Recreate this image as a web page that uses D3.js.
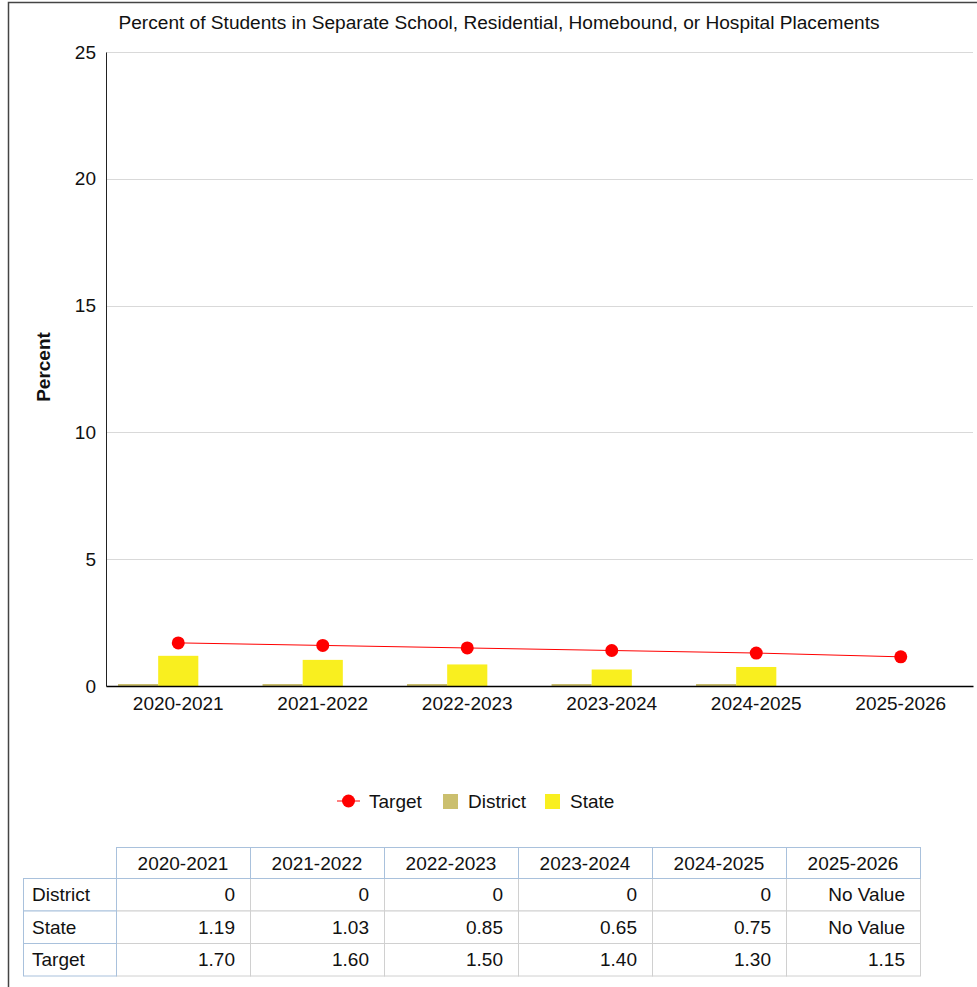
<!DOCTYPE html>
<html>
<head>
<meta charset="utf-8">
<script src="https://cdn.jsdelivr.net/npm/d3@7"></script>
<style>
  body { margin: 0; background: #fff; }
  svg { font-family: "Liberation Sans", Arial, sans-serif; }
</style>
</head>
<body>
<script>
// chart data
var years = ["2020-2021", "2021-2022", "2022-2023", "2023-2024", "2024-2025", "2025-2026"];
var districtValues = [0, 0, 0, 0, 0, null];
var stateValues = [1.19, 1.03, 0.85, 0.65, 0.75, null];
var targetValues = [1.70, 1.60, 1.50, 1.40, 1.30, 1.15];
var yTicks = [0, 5, 10, 15, 20, 25];

var W = 977, H = 987;
var margin = { top: 52, right: 4, bottom: 301, left: 106 };
var fs = "19px";

var svg = d3.select("body").append("svg")
    .attr("width", W)
    .attr("height", H);

// outer frame (left and top only are visible)
svg.append("path")
    .attr("d", "M8.5," + H + "V2.5H" + W)
    .attr("fill", "none")
    .attr("stroke", "#444")
    .attr("stroke-width", 1.5);

svg.append("text")
    .attr("x", 499)
    .attr("y", 29)
    .attr("text-anchor", "middle")
    .style("font-size", "19.1px")
    .attr("fill", "#111")
    .text("Percent of Students in Separate School, Residential, Homebound, or Hospital Placements");

var x = d3.scaleBand()
    .domain(years)
    .range([margin.left, W - margin.right]);

var y = d3.scaleLinear()
    .domain([0, 25])
    .range([H - margin.bottom, margin.top]);

// three slots per category: district, state, (target)
var slot = d3.scaleBand()
    .domain(["district", "state", "target"])
    .range([0, x.bandwidth()])
    .paddingOuter(0.3);

// grid
svg.append("g")
    .selectAll("line")
    .data(yTicks.filter(d => d > 0))
    .enter().append("line")
    .attr("x1", margin.left)
    .attr("x2", W - margin.right)
    .attr("y1", d => Math.round(y(d)) + 0.5)
    .attr("y2", d => Math.round(y(d)) + 0.5)
    .attr("stroke", "#d9d9d9")
    .attr("stroke-width", 1);

// y axis
var yAxis = svg.append("g")
    .attr("transform", "translate(" + margin.left + ",0)")
    .call(d3.axisLeft(y).tickValues(yTicks).tickSize(0).tickPadding(10));
yAxis.select(".domain").attr("stroke", "#222");
yAxis.selectAll("text")
    .style("font-size", fs)
    .attr("fill", "#111")
    .attr("font-family", null);

svg.append("text")
    .attr("transform", "translate(50,367) rotate(-90)")
    .attr("text-anchor", "middle")
    .style("font-size", "19px")
    .style("font-weight", "bold")
    .attr("fill", "#111")
    .text("Percent");

// bars
function drawBars(values, key, color) {
    svg.append("g")
        .selectAll("rect")
        .data(years.map((d, i) => ({ year: d, v: values[i] })).filter(d => d.v != null))
        .enter().append("rect")
        .attr("x", d => x(d.year) + slot(key))
        .attr("width", slot.bandwidth())
        .attr("y", d => Math.min(y(d.v), y(0) - 2))
        .attr("height", d => Math.max(y(0) - y(d.v), 2))
        .attr("fill", color);
}
drawBars(districtValues, "district", "#cbbf6e");
drawBars(stateValues, "state", "#f9ef1f");

// x axis
var xAxis = svg.append("g")
    .attr("transform", "translate(0," + y(0) + ")")
    .call(d3.axisBottom(x).tickSize(0).tickPadding(11));
xAxis.select(".domain").attr("stroke", "#000").attr("stroke-width", 1.3);
xAxis.selectAll("text")
    .style("font-size", fs)
    .attr("fill", "#111")
    .attr("font-family", null);

// target line
var line = d3.line()
    .x((d, i) => x(years[i]) + x.bandwidth() / 2)
    .y(d => y(d));

svg.append("path")
    .datum(targetValues)
    .attr("d", line)
    .attr("fill", "none")
    .attr("stroke", "#ff0000")
    .attr("stroke-width", 1);

svg.append("g")
    .selectAll("circle")
    .data(targetValues)
    .enter().append("circle")
    .attr("cx", (d, i) => x(years[i]) + x.bandwidth() / 2)
    .attr("cy", d => y(d))
    .attr("r", 6.5)
    .attr("fill", "#ff0000");

// legend
var legend = svg.append("g").attr("transform", "translate(0,801)");
legend.append("line")
    .attr("x1", 337).attr("x2", 360)
    .attr("stroke", "#ff0000").attr("stroke-width", 1);
legend.append("circle")
    .attr("cx", 348.5).attr("r", 6.5).attr("fill", "#ff0000");
legend.append("text").attr("x", 369).attr("y", 7).text("Target");
legend.append("rect")
    .attr("x", 443).attr("y", -7).attr("width", 15).attr("height", 15)
    .attr("fill", "#cbbf6e");
legend.append("text").attr("x", 468).attr("y", 7).text("District");
legend.append("rect")
    .attr("x", 545).attr("y", -7).attr("width", 15).attr("height", 15)
    .attr("fill", "#f9ef1f");
legend.append("text").attr("x", 570).attr("y", 7).text("State");
legend.selectAll("text").style("font-size", fs).attr("fill", "#111");

// data table
var tableRows = [
    { name: "District", vals: districtValues.map(v => v == null ? "No Value" : String(v)) },
    { name: "State", vals: stateValues.map(v => v == null ? "No Value" : v.toFixed(2)) },
    { name: "Target", vals: targetValues.map(v => v == null ? "No Value" : v.toFixed(2)) }
];

var tLeft = 23, labelW = 93, colW = 134, tTop = 847, headH = 31, rowH = 32.5;
var colX = d3.scaleBand()
    .domain(years)
    .range([tLeft + labelW, tLeft + labelW + colW * years.length]);

var table = svg.append("g").style("font-size", fs);

// body cells
tableRows.forEach(function (r, ri) {
    var ry = tTop + headH + ri * rowH;
    years.forEach(function (yr, ci) {
        table.append("rect")
            .attr("x", colX(yr) + 0.5).attr("y", ry + 0.5)
            .attr("width", colW).attr("height", rowH)
            .attr("fill", "#fff").attr("stroke", "#d0d0d0");
        table.append("text")
            .attr("x", colX(yr) + colW - 15)
            .attr("y", ry + rowH / 2 + 7)
            .attr("text-anchor", "end")
            .attr("fill", "#111")
            .text(r.vals[ci]);
    });
});

// row label cells
tableRows.forEach(function (r, ri) {
    var ry = tTop + headH + ri * rowH;
    table.append("rect")
        .attr("x", tLeft + 0.5).attr("y", ry + 0.5)
        .attr("width", labelW).attr("height", rowH)
        .attr("fill", "#fff").attr("stroke", "#a9c1dc");
    table.append("text")
        .attr("x", tLeft + 9)
        .attr("y", ry + rowH / 2 + 7)
        .attr("fill", "#111")
        .text(r.name);
});

// header cells
years.forEach(function (yr) {
    table.append("rect")
        .attr("x", colX(yr) + 0.5).attr("y", tTop + 0.5)
        .attr("width", colW).attr("height", headH)
        .attr("fill", "#fff").attr("stroke", "#a9c1dc");
    table.append("text")
        .attr("x", colX(yr) + colW / 2)
        .attr("y", tTop + headH / 2 + 7)
        .attr("text-anchor", "middle")
        .attr("fill", "#111")
        .text(yr);
});
</script>
</body>
</html>
